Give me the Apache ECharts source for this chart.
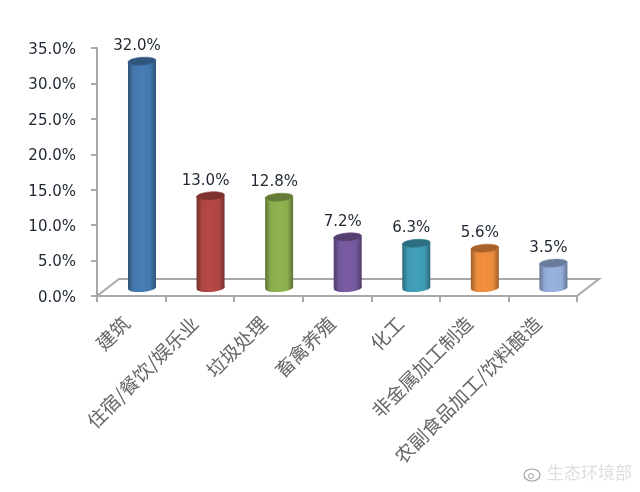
<!DOCTYPE html>
<html>
<head>
<meta charset="utf-8">
<style>
html,body{margin:0;padding:0;background:#fff}
#c{width:640px;height:492px;filter:blur(0.5px)}
</style>
<script src="https://cdn.jsdelivr.net/npm/echarts@6/dist/echarts.min.js"></script>
</head>
<body>
<div id="c"></div>
<script>
const categories = ['建筑','住宿/餐饮/娱乐业','垃圾处理','畜禽养殖','化工','非金属加工制造','农副食品加工/饮料酿造'];
const values = [32.0,13.0,12.8,7.2,6.3,5.6,3.5];
const palette = ['#4478ae','#ae4643','#8bac4c','#74589c','#3f9ab4','#ea8a3c','#93acd8'];
const yTicks = {min:0,max:35,interval:5};

const depthX = 22, depthY = 17;      // floor depth in pixels
const cylX = 10.7, cylY = 8;         // cylinder sits mid-depth
const cylW = 28, ry = 4;

function shade(hex, k){
  const n = parseInt(hex.slice(1),16);
  const ch = s => Math.max(0,Math.min(255,Math.round(((n>>s)&255)*k)));
  return 'rgb('+ch(16)+','+ch(8)+','+ch(0)+')';
}

const chart = echarts.init(document.getElementById('c'),null,{renderer:'canvas'});

function floorItem(params, api){
  const cs = params.coordSys;
  const y0 = api.coord([0,0])[1];
  const xl = cs.x, xr = cs.x + cs.width;
  return {type:'polyline',silent:true,
    shape:{points:[[xl,y0],[xl+depthX,y0-depthY],[xr+depthX,y0-depthY],[xr,y0]]},
    style:{fill:'none',stroke:'#a8a8a8',lineWidth:2}};
}

function cylinder(params, api){
  const i = api.value(0), v = api.value(1);
  const base = api.coord([i,0]), top = api.coord([i,v]);
  const cx = base[0]+cylX, by = base[1]-cylY, ty = top[1]-cylY;
  const c = palette[i];
  const dark = shade(c,0.68);
  const grad = {type:'linear',x:0,y:0,x2:1,y2:0,colorStops:[
    {offset:0,color:dark},{offset:0.2,color:c},{offset:0.5,color:shade(c,1.04)},
    {offset:0.8,color:c},{offset:1,color:dark}]};
  const rot = 0.07;
  return {type:'group',children:[
    {type:'ellipse',shape:{cx:cx,cy:by,rx:cylW/2,ry:ry},rotation:rot,originX:cx,originY:by,style:{fill:grad}},
    {type:'rect',shape:{x:cx-cylW/2,y:ty,width:cylW,height:by-ty},style:{fill:grad}},
    {type:'ellipse',shape:{cx:cx,cy:ty,rx:cylW/2,ry:ry},rotation:rot,originX:cx,originY:ty,style:{fill:shade(c,0.72),stroke:shade(c,0.85),lineWidth:0.6}},
    {type:'text',x:cx-5,y:ty-15,style:{text:v.toFixed(1)+'%',fill:'#1f2733',font:'15px "DejaVu Sans"',align:'center',verticalAlign:'middle'}}
  ]};
}

chart.setOption({
  animation:false,
  backgroundColor:'#fff',
  grid:{left:97,right:63,top:48,bottom:196},
  xAxis:{type:'category',data:categories,
    axisLine:{lineStyle:{color:'#a8a8a8',width:2}},
    axisTick:{show:true,length:6,lineStyle:{color:'#a8a8a8',width:2}},
    axisLabel:{rotate:45,interval:0,margin:19,align:'right',padding:[0,7,0,0],color:'#666',fontSize:19,fontFamily:'"Noto Sans CJK SC"'}},
  yAxis:{type:'value',min:yTicks.min,max:yTicks.max,interval:yTicks.interval,
    splitLine:{show:false},
    axisLine:{show:true,lineStyle:{color:'#a8a8a8',width:2}},
    axisTick:{show:true,length:6,lineStyle:{color:'#a8a8a8',width:2}},
    axisLabel:{margin:21,color:'#1f2733',fontSize:15,fontFamily:'"DejaVu Sans"',verticalAlign:'top',lineHeight:4,formatter:v=>v.toFixed(1)+'%'}},
  graphic:[
    {type:'text',left:547,top:464,silent:true,style:{text:'生态环境部',fill:'#dedede',font:'17px "Noto Sans CJK SC"'}},
    {type:'ellipse',shape:{cx:532,cy:475,rx:8,ry:6},silent:true,style:{fill:'none',stroke:'#a0a0a0',lineWidth:1.2}},
    {type:'circle',shape:{cx:531,cy:476,r:2.5},silent:true,style:{fill:'none',stroke:'#a0a0a0',lineWidth:1}}
  ],
  series:[
    {type:'custom',coordinateSystem:'cartesian2d',data:[[0,0]],renderItem:floorItem,z:1,silent:true},
    {type:'custom',coordinateSystem:'cartesian2d',data:values.map((v,i)=>[i,v]),renderItem:cylinder,z:2,clip:false,encode:{x:0,y:1}}
  ]
});
</script>
</body>
</html>
